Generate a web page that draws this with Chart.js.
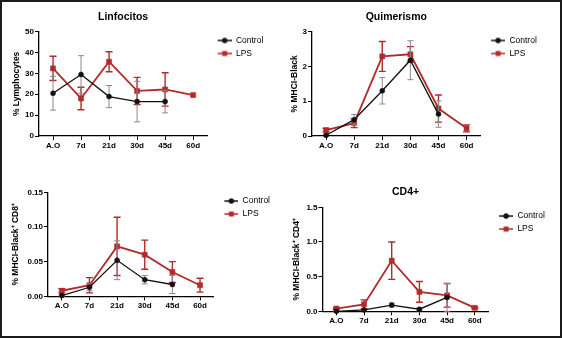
<!DOCTYPE html>
<html>
<head>
<meta charset="utf-8">
<script src="https://cdn.jsdelivr.net/npm/chart.js"></script>
<style>
  html, body { margin: 0; padding: 0; background: #fff; }
  #page { position: relative; width: 562px; height: 338px; overflow: hidden; background: #fff; }
  #page canvas { position: absolute; }
  #frame { position: absolute; left: 0; top: 0; width: 562px; height: 338px; box-sizing: border-box; border: 2px solid #1c1c1c; pointer-events: none; }
</style>
</head>
<body>
<div id="page">
  <canvas id="linf" width="281" height="169" style="left:0;top:0"></canvas>
  <canvas id="quim" width="281" height="169" style="left:281px;top:0"></canvas>
  <canvas id="cd8" width="281" height="169" style="left:0;top:169px"></canvas>
  <canvas id="cd4" width="281" height="169" style="left:281px;top:169px"></canvas>
  <div id="frame"></div>
</div>
<script>
// values (mean and error bar half-length)
const days = ["A.O", "7d", "21d", "30d", "45d", "60d"];

const linfControl = [20.5, 29.5, 18.9, 16.5, 16.5, null];
const linfControlErr = [8.1, 9, 5.3, 9.7, 5.4, null];
const linfLps = [32.4, 18, 35.6, 21.6, 22.3, 19.6];
const linfLpsErr = [5.8, 5.4, 4.8, 6.5, 8, 0];

const quimControl = [0.02, 0.47, 1.3, 2.18, 0.63, null];
const quimControlErr = [0.03, 0.15, 0.38, 0.56, 0.38, null];
const quimLps = [0.17, 0.37, 2.29, 2.35, 0.79, 0.22];
const quimLpsErr = [0.05, 0.13, 0.43, 0.22, 0.39, 0.1];

const cd8Control = [0.001, 0.013, 0.052, 0.024, 0.017, null];
const cd8ControlErr = [0.001, 0.005, 0.028, 0.006, 0.013, null];
const cd8Lps = [0.008, 0.016, 0.072, 0.06, 0.035, 0.016];
const cd8LpsErr = [0.003, 0.011, 0.042, 0.021, 0.015, 0.01];

const cd4Control = [0.0, 0.02, 0.09, 0.03, 0.2, null];
const cd4ControlErr = [0.005, 0.01, 0.03, 0.02, 0.2, null];
const cd4Lps = [0.04, 0.1, 0.73, 0.28, 0.23, 0.05];
const cd4LpsErr = [0.01, 0.065, 0.27, 0.15, 0.17, 0.01];

const black = "#111111";
const red = "#b22b2b";

Chart.defaults.font.family = '"Liberation Sans", Arial, sans-serif';

// draws each dataset's error bars right before the dataset itself
const errorBars = {
    id: "errorBars",
    beforeDatasetDraw(chart, args) {
        const ds = chart.data.datasets[args.index];
        if (!ds.errors) return;
        const yScale = chart.scales.y;
        const ctx = chart.ctx;
        ctx.save();
        ctx.strokeStyle = ds.errorColor;
        ctx.lineWidth = ds.errorWidth;
        args.meta.data.forEach((pt, i) => {
            const v = ds.data[i];
            const e = ds.errors[i];
            if (v == null || !e) return;
            const top = yScale.getPixelForValue(v + e);
            const bot = yScale.getPixelForValue(v - e);
            const w = ds.capWidth;
            ctx.beginPath();
            ctx.moveTo(pt.x, top);
            ctx.lineTo(pt.x, bot);
            ctx.moveTo(pt.x - w, top);
            ctx.lineTo(pt.x + w, top);
            ctx.moveTo(pt.x - w, bot);
            ctx.lineTo(pt.x + w, bot);
            ctx.stroke();
        });
        ctx.restore();
    }
};

function legendIcon(color, style) {
    const c = document.createElement("canvas");
    c.width = 20;
    c.height = 8;
    const g = c.getContext("2d");
    g.strokeStyle = color;
    g.fillStyle = color;
    g.lineWidth = 1.5;
    g.beginPath();
    g.moveTo(6, 4);
    g.lineTo(20, 4);
    g.stroke();
    if (style === "circle") {
        g.beginPath();
        g.arc(13, 4, 2.7, 0, Math.PI * 2);
        g.fill();
    } else {
        g.fillRect(10.5, 1.5, 5, 5);
    }
    return c;
}

const icons = [legendIcon(black, "circle"), legendIcon(red, "rect")];

function makePanel(id, cfg) {
    const ctx = document.getElementById(id).getContext("2d");
    const axisGrid = { drawOnChartArea: false, tickLength: 4, color: "#000", lineWidth: 1 };
    const axisBorder = { color: "#000", width: 1.3 };
    const tickFont = { size: 8, weight: "bold" };

    return new Chart(ctx, {
        type: "line",
        data: {
            labels: days,
            datasets: [
                {
                    label: "Control",
                    data: cfg.control,
                    errors: cfg.controlErr,
                    borderColor: black,
                    backgroundColor: black,
                    pointStyle: "circle",
                    pointRadius: 2.5,
                    pointBorderWidth: 0.5,
                    borderWidth: 1.3,
                    errorColor: "#8a8a8a",
                    errorWidth: 1,
                    capWidth: 3,
                    clip: false,
                },
                {
                    label: "LPS",
                    data: cfg.lps,
                    errors: cfg.lpsErr,
                    borderColor: red,
                    backgroundColor: red,
                    pointStyle: "rect",
                    pointRadius: 3.6,
                    pointBorderWidth: 0.5,
                    borderWidth: 1.8,
                    errorColor: red,
                    errorWidth: 1.4,
                    capWidth: 3.5,
                    clip: false,
                },
            ],
        },
        options: {
            responsive: false,
            animation: false,
            layout: { padding: cfg.pad },
            plugins: {
                title: {
                    display: !!cfg.title,
                    text: cfg.title,
                    fullSize: false,
                    color: "#000",
                    font: { size: 10.5, weight: "bold" },
                    padding: { top: 0, bottom: cfg.titleGap || 0 },
                },
                legend: {
                    position: "right",
                    align: "start",
                    fullSize: false,
                    labels: {
                        usePointStyle: true,
                        pointStyleWidth: 20,
                        padding: 4.5,
                        color: "#000",
                        font: { size: 8.5 },
                        generateLabels(chart) {
                            const items = Chart.defaults.plugins.legend.labels.generateLabels(chart);
                            items.forEach((it, i) => { it.pointStyle = icons[i]; });
                            return items;
                        },
                    },
                },
                tooltip: { enabled: false },
            },
            scales: {
                x: {
                    offset: true,
                    grid: Object.assign({ offset: false }, axisGrid),
                    border: axisBorder,
                    ticks: { color: "#000", font: tickFont, padding: 1, autoSkip: false, maxRotation: 0 },
                    afterFit(scale) { scale.height = 20; },
                },
                y: {
                    min: 0,
                    max: cfg.max,
                    grid: axisGrid,
                    border: axisBorder,
                    ticks: {
                        stepSize: cfg.step,
                        color: "#000",
                        font: tickFont,
                        padding: 1,
                        callback: (v) => v.toFixed(cfg.dec),
                    },
                    title: {
                        display: true,
                        text: cfg.yTitle,
                        color: "#000",
                        font: { size: 8.5, weight: "bold" },
                        padding: 0,
                    },
                    afterFit(scale) { scale.width = cfg.yWidth; },
                },
            },
        },
        plugins: [errorBars],
    });
}

makePanel("linf", {
    title: "Linfocitos", titleGap: 8.4,
    yTitle: "% Lymphocytes",
    control: linfControl, controlErr: linfControlErr,
    lps: linfLps, lpsErr: linfLpsErr,
    max: 50, step: 10, dec: 0,
    pad: { left: 12, top: 10.7, bottom: 13, right: 8.8 }, yWidth: 27,
});

makePanel("quim", {
    title: "Quimerismo", titleGap: 8.4,
    yTitle: "% MHCI-Black",
    control: quimControl, controlErr: quimControlErr,
    lps: quimLps, lpsErr: quimLpsErr,
    max: 3, step: 1, dec: 0,
    pad: { left: 8.9, top: 10.7, bottom: 13, right: 17.8 }, yWidth: 22.1,
});

makePanel("cd8", {
    yTitle: "% MHCI-Black\u207A CD8\u207A",
    control: cd8Control, controlErr: cd8ControlErr,
    lps: cd8Lps, lpsErr: cd8LpsErr,
    max: 0.15, step: 0.05, dec: 2,
    pad: { left: 10.9, top: 23.3, bottom: 21.7, right: 1 }, yWidth: 37.1,
});

makePanel("cd4", {
    title: "CD4+", titleGap: 8.7,
    yTitle: "% MHCI-Black\u207A CD4\u207A",
    control: cd4Control, controlErr: cd4ControlErr,
    lps: cd4Lps, lpsErr: cd4LpsErr,
    max: 1.5, step: 0.5, dec: 1,
    pad: { left: 10.9, top: 17, bottom: 6.7, right: 7.8 }, yWidth: 30.6,
});
</script>
</body>
</html>
